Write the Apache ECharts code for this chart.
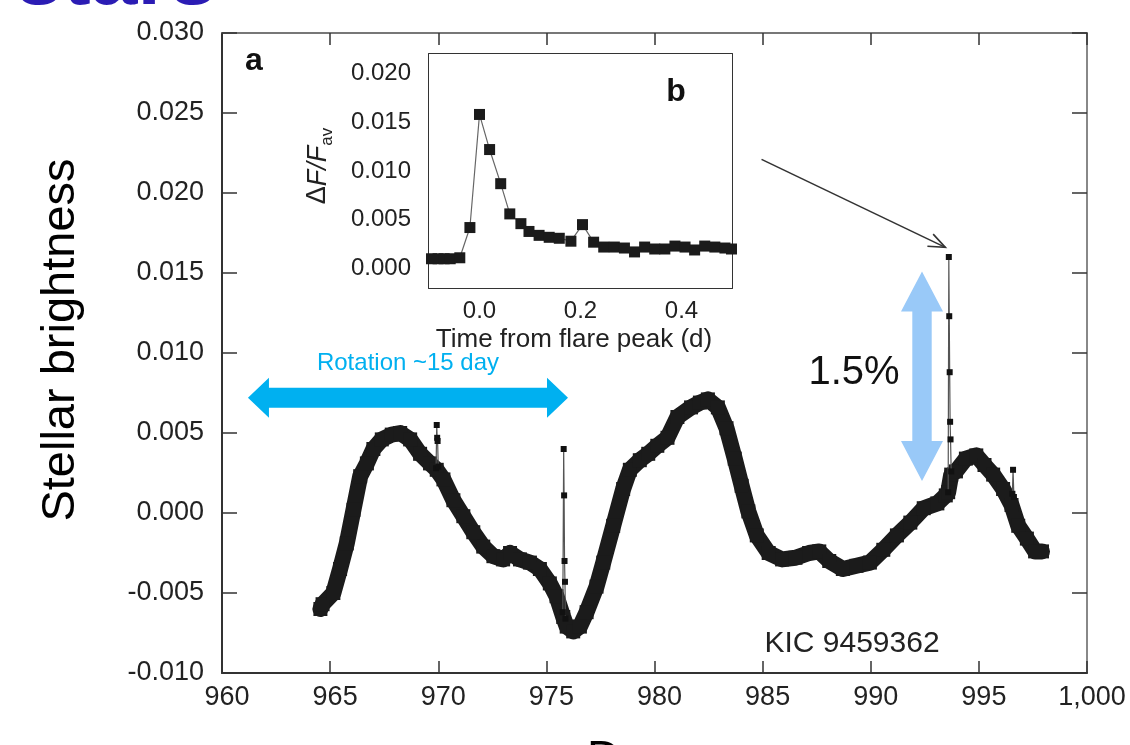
<!DOCTYPE html>
<html>
<head>
<meta charset="utf-8">
<script src="https://cdn.jsdelivr.net/npm/echarts@6/dist/echarts.min.js"></script>
<style>
  html, body { margin: 0; padding: 0; background: #fff; }
  #chart { width: 1130px; height: 745px; }
</style>
</head>
<body>
<div id="chart"></div>
<script>
// Kepler light curve of KIC 9459362 (days vs. relative brightness)
const curveDays = [
  964.55, 964.65, 965.15, 965.46, 965.77, 966.08, 966.39, 966.70, 967.00, 967.39,
  967.85, 968.24, 968.70, 969.16, 969.62, 969.93, 970.24, 970.70, 971.16, 971.62,
  972.08, 972.55, 973.00, 973.32, 973.78, 974.24, 974.70, 975.16, 975.47, 975.78,
  975.94, 976.24, 976.55, 976.86, 977.32, 977.63, 978.09, 978.55, 978.86, 979.32,
  979.71, 980.13, 980.60, 981.06, 981.69, 982.10, 982.47, 982.93, 983.33, 983.71,
  984.03, 984.34, 984.73, 985.28, 985.90, 986.52, 987.15, 987.62, 988.08, 988.71,
  989.34, 989.96, 990.58, 991.21, 991.83, 992.45, 993.08, 993.47, 993.58, 993.72,
  993.94, 994.40, 994.88, 995.26, 995.66, 996.12, 996.51, 996.82, 997.22, 997.60,
  997.92
];
const curveFlux = [
  -0.0060, -0.0057, -0.0050, -0.0035, -0.0019, 0.0002, 0.0023, 0.0031, 0.0040, 0.0046,
  0.0049, 0.0050, 0.0046, 0.0037, 0.0031, 0.0027, 0.0021, 0.0008, -0.0002, -0.0012,
  -0.0021, -0.0027, -0.0029, -0.0025, -0.0029, -0.0031, -0.0035, -0.0044, -0.0052, -0.0065,
  -0.0071, -0.0074, -0.0071, -0.0062, -0.0046, -0.0031, -0.0008, 0.0015, 0.0027, 0.0033,
  0.0037, 0.0042, 0.0047, 0.0060, 0.0066, 0.0069, 0.0071, 0.0066, 0.0053, 0.0034,
  0.0017, 0.0001, -0.0014, -0.0025, -0.0029, -0.0028, -0.0025, -0.0024, -0.0030, -0.0035,
  -0.0033, -0.0031, -0.0023, -0.0014, -0.0006, 0.0003, 0.0006, 0.0011, 0.0013, 0.0024,
  0.0026, 0.0034, 0.0036, 0.0030, 0.0024, 0.0015, 0.0005, -0.0008, -0.0016, -0.0024,
  -0.0024
];

// Individual flare events (null separates one event from the next)
const flareDays = [
  969.90, 969.93, 969.95, 969.97, 970.00, null,
  975.76, 975.80, 975.82, 975.84, 975.86, 975.88, null,
  993.58, 993.61, 993.63, 993.65, 993.67, 993.69, 993.72, null,
  996.55, 996.58, 996.62
];
const flareFlux = [
  0.0028, 0.0055, 0.0047, 0.0045, 0.0029, null,
  -0.0062, 0.0040, 0.0011, -0.0030, -0.0043, -0.0066, null,
  0.0013, 0.0160, 0.0123, 0.0088, 0.0057, 0.0046, 0.0026, null,
  0.0012, 0.0027, 0.0010
];

// Close-up of the largest flare (time from peak in days, ΔF/F_av)
const insetTime = [
  -0.095, -0.082, -0.070, -0.058, -0.039, -0.019, 0.000, 0.020, 0.042, 0.060,
  0.082, 0.098, 0.118, 0.138, 0.158, 0.181, 0.204, 0.226, 0.246, 0.267,
  0.287, 0.307, 0.327, 0.347, 0.367, 0.387, 0.407, 0.426, 0.446, 0.466,
  0.486, 0.499
];
const insetFlux = [
  0.0010, 0.0010, 0.0010, 0.0010, 0.0011, 0.0042, 0.0158, 0.0122, 0.0087, 0.0056,
  0.0046, 0.0038, 0.0034, 0.0032, 0.0031, 0.0028, 0.0045, 0.0027, 0.0022, 0.0022,
  0.0021, 0.0017, 0.0022, 0.0020, 0.0020, 0.0023, 0.0022, 0.0019, 0.0023, 0.0022,
  0.0021, 0.0020
];
const insetXTicks = [0, 0.2, 0.4];
const insetYTicks = [0, 0.005, 0.010, 0.015, 0.020];

// Annotation anchors in data units of the main panel
const rotationSpan = [961.2, 976.0];
const rotationLevel = 0.0072;
const amplitudeDay = 992.37;
const amplitudeRange = [0.0020, 0.0151];
const pointerFrom = [984.95, 0.0221];
const pointerTo = [993.45, 0.0166];

const FONT = 'Liberation Sans, Arial, Helvetica, sans-serif';
const INK = '#222';

const pairs = (xs, ys) => xs.map((x, i) => [x, ys[i]]);

function splitEvents(xs, ys) {
  const groups = [];
  let cur = [];
  xs.forEach((x, i) => {
    if (x === null) { if (cur.length) groups.push(cur); cur = []; }
    else cur.push([x, ys[i]]);
  });
  if (cur.length) groups.push(cur);
  return groups;
}

const fmt3 = v => (Math.abs(v) < 1e-9 ? 0 : v).toFixed(3);
const fmtDay = v => (v >= 1000 ? v.toLocaleString('en-US') : String(v));

const frameAxis = (extra) => Object.assign({
  axisLine: { show: true, onZero: false, lineStyle: { color: '#333', width: 2 } },
  splitLine: { show: false }
}, extra);

const flareSeries = splitEvents(flareDays, flareFlux).map(g => ({
  type: 'line',
  xAxisIndex: 0, yAxisIndex: 0,
  data: g,
  symbol: 'rect', symbolSize: 6,
  showAllSymbol: true,
  itemStyle: { color: '#111' },
  lineStyle: { color: '#555', width: 1.2 },
  z: 5,
  silent: true
}));

const option = {
  animation: false,
  backgroundColor: '#fff',
  grid: [
    { left: 222, top: 33, width: 865, height: 640, outerBoundsMode: 'none', containLabel: false },
    { left: 429, top: 54, width: 303, height: 234, outerBoundsMode: 'none', containLabel: false,
      show: true, backgroundColor: '#fff', borderWidth: 0, z: 3 }
  ],
  xAxis: [
    frameAxis({
      type: 'value', gridIndex: 0, min: 960, max: 1000, interval: 5, position: 'bottom',
      axisTick: { inside: true, length: 12, lineStyle: { color: '#333', width: 1.5 } },
      axisLabel: { fontFamily: FONT, fontSize: 27, color: INK, margin: 11, padding: [0, 0, 0, 10],
                   formatter: fmtDay, showMinLabel: true, showMaxLabel: true },
      name: 'Days', nameLocation: 'middle', nameGap: 64,
      nameTextStyle: { fontFamily: FONT, fontSize: 46, color: '#000', padding: [0, 30, 0, 0] }
    }),
    frameAxis({
      type: 'value', gridIndex: 0, min: 960, max: 1000, interval: 5, position: 'top',
      axisLine: { show: true, onZero: false, lineStyle: { color: '#777', width: 2 } },
      axisTick: { inside: true, length: 12, lineStyle: { color: '#333', width: 1.5 } },
      axisLabel: { show: false }
    }),
    frameAxis({
      type: 'value', gridIndex: 1, min: -0.1, max: 0.5, position: 'bottom',
      axisTick: { inside: true, length: 14, customValues: insetXTicks, lineStyle: { color: '#222', width: 2 } },
      axisLabel: { fontFamily: FONT, fontSize: 24, color: INK, margin: 11, customValues: insetXTicks,
                   formatter: v => v.toFixed(1) }
    }),
    frameAxis({
      type: 'value', gridIndex: 1, min: -0.1, max: 0.5, position: 'top',
      axisTick: { inside: true, length: 14, customValues: insetXTicks, lineStyle: { color: '#222', width: 2 } },
      axisLabel: { show: false }
    })
  ],
  yAxis: [
    frameAxis({
      type: 'value', gridIndex: 0, min: -0.010, max: 0.030, interval: 0.005, position: 'left',
      axisTick: { inside: true, length: 15, lineStyle: { color: '#333', width: 1.5 } },
      axisLabel: { fontFamily: FONT, fontSize: 27, color: INK, margin: 18, formatter: fmt3,
                   showMinLabel: true, showMaxLabel: true }
    }),
    frameAxis({
      type: 'value', gridIndex: 0, min: -0.010, max: 0.030, interval: 0.005, position: 'right',
      axisLine: { show: true, onZero: false, lineStyle: { color: '#888', width: 2 } },
      axisTick: { inside: true, length: 15, lineStyle: { color: '#333', width: 1.5 } },
      axisLabel: { show: false }
    }),
    frameAxis({
      type: 'value', gridIndex: 1, min: -0.002, max: 0.022, position: 'left',
      axisTick: { inside: true, length: 14, customValues: insetYTicks, lineStyle: { color: '#222', width: 2 } },
      axisLabel: { fontFamily: FONT, fontSize: 24, color: INK, margin: 18, customValues: insetYTicks,
                   formatter: fmt3 }
    }),
    frameAxis({
      type: 'value', gridIndex: 1, min: -0.002, max: 0.022, position: 'right',
      axisTick: { inside: true, length: 14, customValues: insetYTicks, lineStyle: { color: '#222', width: 2 } },
      axisLabel: { show: false }
    })
  ],
  series: [
    {
      type: 'line',
      xAxisIndex: 0, yAxisIndex: 0,
      data: pairs(curveDays, curveFlux),
      symbol: 'rect', symbolSize: 14, showAllSymbol: true,
      itemStyle: { color: '#1b1b1b' },
      lineStyle: { color: '#1b1b1b', width: 16, join: 'round', cap: 'round' },
      z: 4,
      silent: true
    },
    ...flareSeries,
    {
      type: 'line',
      xAxisIndex: 2, yAxisIndex: 2,
      data: pairs(insetTime, insetFlux),
      symbol: 'rect', symbolSize: 11, showAllSymbol: true,
      itemStyle: { color: '#1b1b1b' },
      lineStyle: { color: '#666', width: 1.2 },
      z: 6,
      silent: true
    }
  ]
};

const chart = echarts.init(document.getElementById('chart'), null, { renderer: 'canvas' });
chart.setOption(option);

// Annotations placed from data coordinates of the main panel
const toPx = p => chart.convertToPixel({ xAxisIndex: 0, yAxisIndex: 0 }, p);

function hArrow(x1, x2, yc, shaft, head, headLen) {
  return [
    [x1, yc], [x1 + headLen, yc - head], [x1 + headLen, yc - shaft], [x2 - headLen, yc - shaft],
    [x2 - headLen, yc - head], [x2, yc], [x2 - headLen, yc + head], [x2 - headLen, yc + shaft],
    [x1 + headLen, yc + shaft], [x1 + headLen, yc + head]
  ];
}
function vArrow(xc, y1, y2, shaft, head, headLen) {
  return [
    [xc, y1], [xc + head, y1 + headLen], [xc + shaft, y1 + headLen], [xc + shaft, y2 - headLen],
    [xc + head, y2 - headLen], [xc, y2], [xc - head, y2 - headLen], [xc - shaft, y2 - headLen],
    [xc - shaft, y1 + headLen], [xc - head, y1 + headLen]
  ];
}

const rL = toPx([rotationSpan[0], rotationLevel]);
const rR = toPx([rotationSpan[1], rotationLevel]);
const aTop = toPx([amplitudeDay, amplitudeRange[1]]);
const aBot = toPx([amplitudeDay, amplitudeRange[0]]);
const pA = toPx(pointerFrom);
const pB = toPx(pointerTo);
const ang = Math.atan2(pB[1] - pA[1], pB[0] - pA[0]);
const headLen = 18, headSpread = 0.38;
const h1 = [pB[0] - headLen * Math.cos(ang - headSpread), pB[1] - headLen * Math.sin(ang - headSpread)];
const h2 = [pB[0] - headLen * Math.cos(ang + headSpread), pB[1] - headLen * Math.sin(ang + headSpread)];

const txt = (x, y, text, style, el) => Object.assign({
  type: 'text', x, y, z: 20, silent: true,
  style: Object.assign({ text, fontFamily: FONT, fill: INK, align: 'center', verticalAlign: 'middle' }, style)
}, el || {});

chart.setOption({
  graphic: [
    { type: 'polygon', z: 10, silent: true, shape: { points: hArrow(rL[0], rR[0], rL[1], 10, 20, 21) }, style: { fill: '#00b0f0' } },
    { type: 'polygon', z: 10, silent: true, shape: { points: vArrow(aTop[0], aTop[1], aBot[1], 9.7, 21, 40) }, style: { fill: '#99c9f8' } },
    { type: 'line', z: 10, silent: true, shape: { x1: pA[0], y1: pA[1], x2: pB[0], y2: pB[1] }, style: { stroke: '#333', lineWidth: 1.6 } },
    { type: 'polyline', z: 10, silent: true, shape: { points: [h1, pB, h2] }, style: { stroke: '#333', lineWidth: 1.6, fill: null } },
    txt(408, 363, 'Rotation ~15 day', { fontSize: 24, fill: '#00b0f0' }),
    txt(854, 373, '1.5%', { fontSize: 40, fill: '#111' }),
    txt(852, 644, 'KIC 9459362', { fontSize: 30 }),
    txt(254, 61, 'a', { fontSize: 32, fontWeight: 'bold', fill: '#111' }),
    txt(676, 92, 'b', { fontSize: 32, fontWeight: 'bold', fill: '#111' }),
    txt(574, 340, 'Time from flare peak (d)', { fontSize: 26 }),
    txt(61, 340, 'Stellar brightness', { fontSize: 47, fill: '#000' }, { rotation: Math.PI / 2 }),
    {
      type: 'text', x: 318, y: 166, rotation: Math.PI / 2, z: 20, silent: true,
      style: {
        text: '{d|Δ}{f|F/F}{s|av}', align: 'center', verticalAlign: 'middle', fill: INK,
        rich: {
          d: { fontFamily: FONT, fontSize: 27, lineHeight: 36, fill: INK },
          f: { fontFamily: FONT, fontSize: 27, fontStyle: 'italic', lineHeight: 36, fill: INK },
          s: { fontFamily: FONT, fontSize: 17, lineHeight: 36, verticalAlign: 'bottom', fill: INK }
        }
      }
    },
    txt(16, -19, 'stars', { fontSize: 84, fontWeight: 'bold', fill: '#2b1cb4', align: 'left' })
  ]
});
</script>
</body>
</html>
